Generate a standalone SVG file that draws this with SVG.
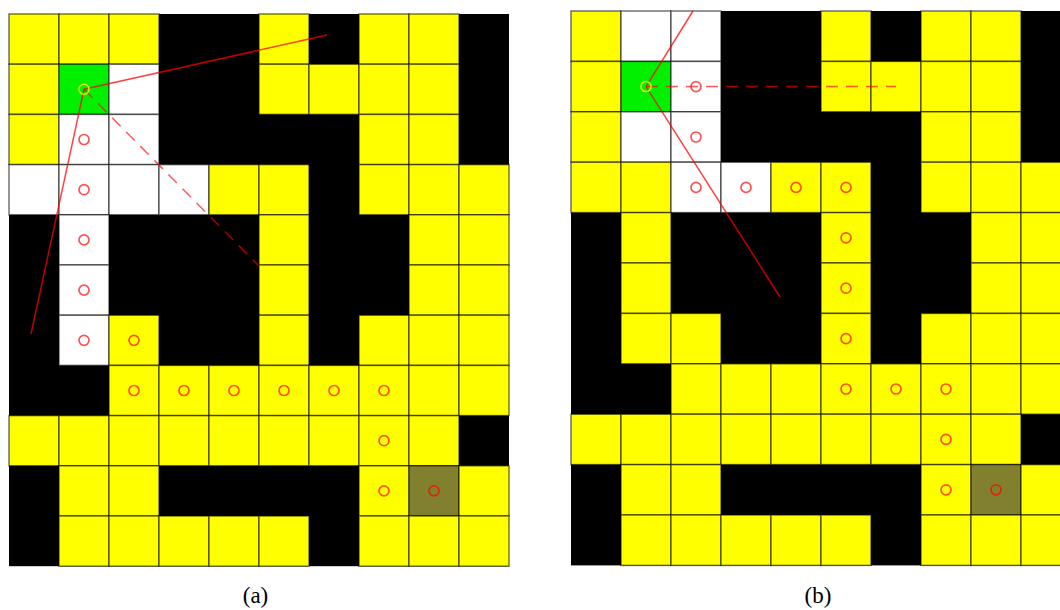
<svg xmlns="http://www.w3.org/2000/svg" width="1060" height="610" viewBox="0 0 1060 610">
<style>
.bg{fill:#000}
.y,.w,.g,.o{stroke:#000;stroke-opacity:0.55;stroke-width:1.5}
.y{fill:#ffff00}
.w{fill:#ffffff}
.g{fill:#00f000}
.o{fill:#80802f}
.p{fill:none;stroke:#ff0000;stroke-opacity:0.68;stroke-width:1.7}
.s{fill:none;stroke:#e8e800;stroke-width:1.5}
.ln{fill:none;stroke:#ff0000;stroke-opacity:0.75;stroke-width:1.5}
.dl{fill:none;stroke:#ff0000;stroke-opacity:0.65;stroke-width:1.5;stroke-dasharray:12 8}
.lbl{font-family:"Liberation Serif","DejaVu Serif",serif;font-size:23px;fill:#000;text-anchor:middle}
</style>
<rect width="1060" height="610" fill="#ffffff"/>

<g id="grid-a">
<rect class="bg" x="9" y="14" width="500" height="552.2"/>
<rect class="y" x="9" y="14" width="50" height="50.2"/>
<rect class="y" x="59" y="14" width="50" height="50.2"/>
<rect class="y" x="109" y="14" width="50" height="50.2"/>
<rect class="y" x="259" y="14" width="50" height="50.2"/>
<rect class="y" x="359" y="14" width="50" height="50.2"/>
<rect class="y" x="409" y="14" width="50" height="50.2"/>
<rect class="y" x="9" y="64.2" width="50" height="50.2"/>
<rect class="g" x="59" y="64.2" width="50" height="50.2"/>
<rect class="w" x="109" y="64.2" width="50" height="50.2"/>
<rect class="y" x="259" y="64.2" width="50" height="50.2"/>
<rect class="y" x="309" y="64.2" width="50" height="50.2"/>
<rect class="y" x="359" y="64.2" width="50" height="50.2"/>
<rect class="y" x="409" y="64.2" width="50" height="50.2"/>
<rect class="y" x="9" y="114.4" width="50" height="50.2"/>
<rect class="w" x="59" y="114.4" width="50" height="50.2"/>
<rect class="w" x="109" y="114.4" width="50" height="50.2"/>
<rect class="y" x="359" y="114.4" width="50" height="50.2"/>
<rect class="y" x="409" y="114.4" width="50" height="50.2"/>
<rect class="w" x="9" y="164.6" width="50" height="50.2"/>
<rect class="w" x="59" y="164.6" width="50" height="50.2"/>
<rect class="w" x="109" y="164.6" width="50" height="50.2"/>
<rect class="w" x="159" y="164.6" width="50" height="50.2"/>
<rect class="y" x="209" y="164.6" width="50" height="50.2"/>
<rect class="y" x="259" y="164.6" width="50" height="50.2"/>
<rect class="y" x="359" y="164.6" width="50" height="50.2"/>
<rect class="y" x="409" y="164.6" width="50" height="50.2"/>
<rect class="y" x="459" y="164.6" width="50" height="50.2"/>
<rect class="w" x="59" y="214.8" width="50" height="50.2"/>
<rect class="y" x="259" y="214.8" width="50" height="50.2"/>
<rect class="y" x="409" y="214.8" width="50" height="50.2"/>
<rect class="y" x="459" y="214.8" width="50" height="50.2"/>
<rect class="w" x="59" y="265" width="50" height="50.2"/>
<rect class="y" x="259" y="265" width="50" height="50.2"/>
<rect class="y" x="409" y="265" width="50" height="50.2"/>
<rect class="y" x="459" y="265" width="50" height="50.2"/>
<rect class="w" x="59" y="315.2" width="50" height="50.2"/>
<rect class="y" x="109" y="315.2" width="50" height="50.2"/>
<rect class="y" x="259" y="315.2" width="50" height="50.2"/>
<rect class="y" x="359" y="315.2" width="50" height="50.2"/>
<rect class="y" x="409" y="315.2" width="50" height="50.2"/>
<rect class="y" x="459" y="315.2" width="50" height="50.2"/>
<rect class="y" x="109" y="365.4" width="50" height="50.2"/>
<rect class="y" x="159" y="365.4" width="50" height="50.2"/>
<rect class="y" x="209" y="365.4" width="50" height="50.2"/>
<rect class="y" x="259" y="365.4" width="50" height="50.2"/>
<rect class="y" x="309" y="365.4" width="50" height="50.2"/>
<rect class="y" x="359" y="365.4" width="50" height="50.2"/>
<rect class="y" x="409" y="365.4" width="50" height="50.2"/>
<rect class="y" x="459" y="365.4" width="50" height="50.2"/>
<rect class="y" x="9" y="415.6" width="50" height="50.2"/>
<rect class="y" x="59" y="415.6" width="50" height="50.2"/>
<rect class="y" x="109" y="415.6" width="50" height="50.2"/>
<rect class="y" x="159" y="415.6" width="50" height="50.2"/>
<rect class="y" x="209" y="415.6" width="50" height="50.2"/>
<rect class="y" x="259" y="415.6" width="50" height="50.2"/>
<rect class="y" x="309" y="415.6" width="50" height="50.2"/>
<rect class="y" x="359" y="415.6" width="50" height="50.2"/>
<rect class="y" x="409" y="415.6" width="50" height="50.2"/>
<rect class="y" x="59" y="465.8" width="50" height="50.2"/>
<rect class="y" x="109" y="465.8" width="50" height="50.2"/>
<rect class="y" x="359" y="465.8" width="50" height="50.2"/>
<rect class="o" x="409" y="465.8" width="50" height="50.2"/>
<rect class="y" x="459" y="465.8" width="50" height="50.2"/>
<rect class="y" x="59" y="516" width="50" height="50.2"/>
<rect class="y" x="109" y="516" width="50" height="50.2"/>
<rect class="y" x="159" y="516" width="50" height="50.2"/>
<rect class="y" x="209" y="516" width="50" height="50.2"/>
<rect class="y" x="259" y="516" width="50" height="50.2"/>
<rect class="y" x="359" y="516" width="50" height="50.2"/>
<rect class="y" x="409" y="516" width="50" height="50.2"/>
<rect class="y" x="459" y="516" width="50" height="50.2"/>
</g>

<g id="grid-b">
<rect class="bg" x="571" y="11" width="500" height="554.4"/>
<rect class="y" x="571" y="11" width="50" height="50.4"/>
<rect class="w" x="621" y="11" width="50" height="50.4"/>
<rect class="w" x="671" y="11" width="50" height="50.4"/>
<rect class="y" x="821" y="11" width="50" height="50.4"/>
<rect class="y" x="921" y="11" width="50" height="50.4"/>
<rect class="y" x="971" y="11" width="50" height="50.4"/>
<rect class="y" x="571" y="61.4" width="50" height="50.4"/>
<rect class="g" x="621" y="61.4" width="50" height="50.4"/>
<rect class="w" x="671" y="61.4" width="50" height="50.4"/>
<rect class="y" x="821" y="61.4" width="50" height="50.4"/>
<rect class="y" x="871" y="61.4" width="50" height="50.4"/>
<rect class="y" x="921" y="61.4" width="50" height="50.4"/>
<rect class="y" x="971" y="61.4" width="50" height="50.4"/>
<rect class="y" x="571" y="111.8" width="50" height="50.4"/>
<rect class="w" x="621" y="111.8" width="50" height="50.4"/>
<rect class="w" x="671" y="111.8" width="50" height="50.4"/>
<rect class="y" x="921" y="111.8" width="50" height="50.4"/>
<rect class="y" x="971" y="111.8" width="50" height="50.4"/>
<rect class="y" x="571" y="162.2" width="50" height="50.4"/>
<rect class="y" x="621" y="162.2" width="50" height="50.4"/>
<rect class="w" x="671" y="162.2" width="50" height="50.4"/>
<rect class="w" x="721" y="162.2" width="50" height="50.4"/>
<rect class="y" x="771" y="162.2" width="50" height="50.4"/>
<rect class="y" x="821" y="162.2" width="50" height="50.4"/>
<rect class="y" x="921" y="162.2" width="50" height="50.4"/>
<rect class="y" x="971" y="162.2" width="50" height="50.4"/>
<rect class="y" x="1021" y="162.2" width="50" height="50.4"/>
<rect class="y" x="621" y="212.6" width="50" height="50.4"/>
<rect class="y" x="821" y="212.6" width="50" height="50.4"/>
<rect class="y" x="971" y="212.6" width="50" height="50.4"/>
<rect class="y" x="1021" y="212.6" width="50" height="50.4"/>
<rect class="y" x="621" y="263" width="50" height="50.4"/>
<rect class="y" x="821" y="263" width="50" height="50.4"/>
<rect class="y" x="971" y="263" width="50" height="50.4"/>
<rect class="y" x="1021" y="263" width="50" height="50.4"/>
<rect class="y" x="621" y="313.4" width="50" height="50.4"/>
<rect class="y" x="671" y="313.4" width="50" height="50.4"/>
<rect class="y" x="821" y="313.4" width="50" height="50.4"/>
<rect class="y" x="921" y="313.4" width="50" height="50.4"/>
<rect class="y" x="971" y="313.4" width="50" height="50.4"/>
<rect class="y" x="1021" y="313.4" width="50" height="50.4"/>
<rect class="y" x="671" y="363.8" width="50" height="50.4"/>
<rect class="y" x="721" y="363.8" width="50" height="50.4"/>
<rect class="y" x="771" y="363.8" width="50" height="50.4"/>
<rect class="y" x="821" y="363.8" width="50" height="50.4"/>
<rect class="y" x="871" y="363.8" width="50" height="50.4"/>
<rect class="y" x="921" y="363.8" width="50" height="50.4"/>
<rect class="y" x="971" y="363.8" width="50" height="50.4"/>
<rect class="y" x="1021" y="363.8" width="50" height="50.4"/>
<rect class="y" x="571" y="414.2" width="50" height="50.4"/>
<rect class="y" x="621" y="414.2" width="50" height="50.4"/>
<rect class="y" x="671" y="414.2" width="50" height="50.4"/>
<rect class="y" x="721" y="414.2" width="50" height="50.4"/>
<rect class="y" x="771" y="414.2" width="50" height="50.4"/>
<rect class="y" x="821" y="414.2" width="50" height="50.4"/>
<rect class="y" x="871" y="414.2" width="50" height="50.4"/>
<rect class="y" x="921" y="414.2" width="50" height="50.4"/>
<rect class="y" x="971" y="414.2" width="50" height="50.4"/>
<rect class="y" x="621" y="464.6" width="50" height="50.4"/>
<rect class="y" x="671" y="464.6" width="50" height="50.4"/>
<rect class="y" x="921" y="464.6" width="50" height="50.4"/>
<rect class="o" x="971" y="464.6" width="50" height="50.4"/>
<rect class="y" x="1021" y="464.6" width="50" height="50.4"/>
<rect class="y" x="621" y="515" width="50" height="50.4"/>
<rect class="y" x="671" y="515" width="50" height="50.4"/>
<rect class="y" x="721" y="515" width="50" height="50.4"/>
<rect class="y" x="771" y="515" width="50" height="50.4"/>
<rect class="y" x="821" y="515" width="50" height="50.4"/>
<rect class="y" x="921" y="515" width="50" height="50.4"/>
<rect class="y" x="971" y="515" width="50" height="50.4"/>
<rect class="y" x="1021" y="515" width="50" height="50.4"/>
</g>

<g id="connectors">
<line class="ln" x1="84" y1="89.3" x2="327" y2="35"/>
<line class="ln" x1="84" y1="89.3" x2="31" y2="334"/>
<line class="dl" x1="84" y1="89.3" x2="259" y2="266"/>
<line class="ln" x1="646" y1="86.6" x2="693" y2="11"/>
<line class="ln" x1="646" y1="86.6" x2="780" y2="297"/>
<line class="dl" x1="646" y1="86.6" x2="896" y2="86.6"/>
</g>

<g id="path-a">
<circle class="p" cx="84" cy="139.5" r="5"/>
<circle class="p" cx="84" cy="189.7" r="5"/>
<circle class="p" cx="84" cy="239.9" r="5"/>
<circle class="p" cx="84" cy="290.1" r="5"/>
<circle class="p" cx="84" cy="340.3" r="5"/>
<circle class="p" cx="134" cy="340.3" r="5"/>
<circle class="p" cx="134" cy="390.5" r="5"/>
<circle class="p" cx="184" cy="390.5" r="5"/>
<circle class="p" cx="234" cy="390.5" r="5"/>
<circle class="p" cx="284" cy="390.5" r="5"/>
<circle class="p" cx="334" cy="390.5" r="5"/>
<circle class="p" cx="384" cy="390.5" r="5"/>
<circle class="p" cx="384" cy="440.7" r="5"/>
<circle class="p" cx="384" cy="490.9" r="5"/>
<circle class="p" cx="434" cy="490.9" r="5"/>
<circle class="s" cx="84" cy="89.3" r="5"/>
</g>

<g id="path-b">
<circle class="p" cx="696" cy="86.6" r="5"/>
<circle class="p" cx="696" cy="137" r="5"/>
<circle class="p" cx="696" cy="187.4" r="5"/>
<circle class="p" cx="746" cy="187.4" r="5"/>
<circle class="p" cx="796" cy="187.4" r="5"/>
<circle class="p" cx="846" cy="187.4" r="5"/>
<circle class="p" cx="846" cy="237.8" r="5"/>
<circle class="p" cx="846" cy="288.2" r="5"/>
<circle class="p" cx="846" cy="338.6" r="5"/>
<circle class="p" cx="846" cy="389" r="5"/>
<circle class="p" cx="896" cy="389" r="5"/>
<circle class="p" cx="946" cy="389" r="5"/>
<circle class="p" cx="946" cy="439.4" r="5"/>
<circle class="p" cx="946" cy="489.8" r="5"/>
<circle class="p" cx="996" cy="489.8" r="5"/>
<circle class="s" cx="646" cy="86.6" r="5"/>
</g>

<g id="labels">
<text class="lbl" x="255.5" y="603">(a)</text>
<text class="lbl" x="818" y="603">(b)</text>
</g>
</svg>
